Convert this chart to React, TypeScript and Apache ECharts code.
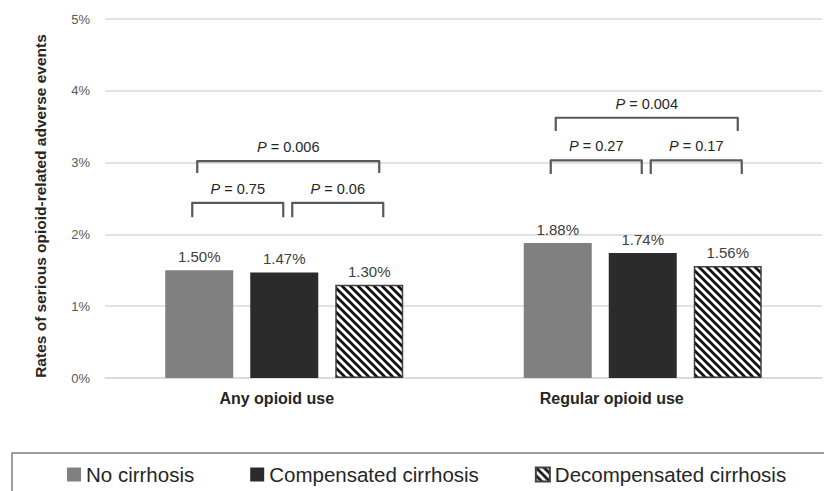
import React, { useEffect, useRef } from "react";
import * as echarts from "echarts";

const categories = ["Any opioid use", "Regular opioid use"];
const seriesNames = ["No cirrhosis", "Compensated cirrhosis", "Decompensated cirrhosis"];
const noCirrhosis = [1.5, 1.88];
const compensated = [1.47, 1.74];
const decompensated = [1.3, 1.56];
const yMin = 0;
const yMax = 5;
const yInterval = 1;
const yAxisTitle = "Rates of serious opioid-related adverse events";

// significance brackets: category, bars spanned, bracket top / leg end (in % units), p value
const bracketCats = [0, 0, 0, 1, 1, 1];
const bracketFrom = [0, 1, 0, 0, 1, 0];
const bracketTo = [1, 2, 2, 1, 2, 2];
const bracketTop = [2.44, 2.44, 3.02, 3.03, 3.03, 3.625];
const bracketLeg = [2.24, 2.24, 2.855, 2.84, 2.84, 3.44];
const bracketP = ["0.75", "0.06", "0.006", "0.27", "0.17", "0.004"];

const FONT = "'Liberation Sans', Arial, sans-serif";
const BAR_W = 68;
const BAR_GAP = 17;

function makeStripes(): HTMLCanvasElement {
  const c = document.createElement("canvas");
  c.width = 8;
  c.height = 8;
  const ctx = c.getContext("2d")!;
  ctx.fillStyle = "#ffffff";
  ctx.fillRect(0, 0, 8, 8);
  ctx.strokeStyle = "#111111";
  ctx.lineWidth = 2.7;
  for (let k = -24; k <= 24; k += 8) {
    ctx.beginPath();
    ctx.moveTo(k - 4, -4);
    ctx.lineTo(k + 12, 12);
    ctx.stroke();
  }
  return c;
}

export default function App() {
  const ref = useRef<HTMLDivElement>(null);
  useEffect(() => {
    if (!ref.current) return;
    const chart = echarts.init(ref.current, null, { renderer: "svg" });
    const stripes = makeStripes();
    const pattern: any = { image: stripes, repeat: "repeat", imageWidth: 8, imageHeight: 8 };

    const valueLabel = {
      show: true,
      position: "top",
      distance: 6,
      fontFamily: FONT,
      fontSize: 15,
      color: "#404040",
      formatter: (p: any) => Number(p.value).toFixed(2) + "%",
    };

    const bracketData = bracketCats.map((c, i) => [c, bracketTop[i], bracketLeg[i]]);

    const option: any = {
      animation: false,
      textStyle: { fontFamily: FONT },
      grid: { left: 105, right: 2, top: 19, bottom: 113, containLabel: false },
      legend: {
        data: seriesNames,
        left: 67,
        top: 464,
        padding: 0,
        itemWidth: 14,
        itemHeight: 14,
        itemGap: 56,
        icon: "rect",
        textStyle: { fontSize: 20.5, color: "#262626", fontFamily: FONT },
      },
      xAxis: {
        type: "category",
        data: categories,
        axisTick: { show: false },
        axisLine: { show: true, lineStyle: { color: "#d9d9d9", width: 1.5 } },
        axisLabel: {
          margin: 12,
          formatter: (v: string, i: number) => (i === 0 ? "{a|" + v + "}" : "{b|" + v + "}"),
          rich: {
            a: { fontFamily: FONT, fontSize: 16, fontWeight: "bold", color: "#262626", padding: [0, 15, 0, 0] },
            b: { fontFamily: FONT, fontSize: 16, fontWeight: "bold", color: "#262626", padding: [0, 62, 0, 0] },
          },
        },
      },
      yAxis: {
        type: "value",
        min: yMin,
        max: yMax,
        interval: yInterval,
        axisLine: { show: false },
        axisTick: { show: false },
        axisLabel: { formatter: "{value}%", fontSize: 13, color: "#595959", margin: 15, fontFamily: FONT },
        splitLine: { lineStyle: { color: "#d9d9d9", width: 1.5 } },
      },
      graphic: [
        {
          type: "text",
          x: 40,
          y: 206,
          rotation: Math.PI / 2,
          style: {
            text: yAxisTitle,
            fontFamily: FONT,
            fontSize: 15.5,
            fontWeight: "bold",
            fill: "#262626",
            align: "center",
            verticalAlign: "middle",
          },
        },
        {
          type: "rect",
          shape: { x: 12, y: 453, width: 900, height: 100 },
          style: { fill: "none", stroke: "#7f7f7f", lineWidth: 1.5 },
        },
      ],
      series: [
        {
          name: seriesNames[0],
          type: "bar",
          data: noCirrhosis,
          barWidth: BAR_W,
          barGap: "25%",
          itemStyle: { color: "#808080" },
          label: valueLabel,
        },
        {
          name: seriesNames[1],
          type: "bar",
          data: compensated,
          barWidth: BAR_W,
          barGap: "25%",
          itemStyle: { color: "#2b2b2b" },
          label: valueLabel,
        },
        {
          name: seriesNames[2],
          type: "bar",
          data: decompensated,
          barWidth: BAR_W,
          barGap: "25%",
          itemStyle: { color: pattern, borderColor: "#404040", borderWidth: 1.5 },
          label: valueLabel,
        },
        {
          type: "custom",
          name: "brackets",
          data: bracketData,
          clip: false,
          silent: true,
          z: 5,
          renderItem: (params: any, api: any) => {
            const i = params.dataIndex;
            const top = api.coord([api.value(0), api.value(1)]);
            const legY = api.coord([api.value(0), api.value(2)])[1];
            const step = BAR_W + BAR_GAP;
            const centerOf = (k: number) => top[0] + (k - 1) * step;
            const from = bracketFrom[i];
            const to = bracketTo[i];
            let x1: number, x2: number;
            if (from === 0 && to === 1) {
              x1 = centerOf(0) - 7;
              x2 = centerOf(1) - 1;
            } else if (from === 1 && to === 2) {
              x1 = centerOf(1) + 8;
              x2 = centerOf(2) + 14;
            } else {
              x1 = centerOf(0) - 2;
              x2 = centerOf(2) + 10;
            }
            const y = top[1];
            return {
              type: "group",
              children: [
                {
                  type: "polyline",
                  shape: { points: [[x1, legY], [x1, y], [x2, y], [x2, legY]] },
                  style: { stroke: "#595959", lineWidth: 2.2, fill: null, lineJoin: "round", lineCap: "butt" },
                },
                {
                  type: "text",
                  x: (x1 + x2) / 2,
                  y: y - 14,
                  style: {
                    text: "{i|P} = " + bracketP[i],
                    rich: { i: { fontStyle: "italic", fontFamily: FONT, fontSize: 14.5, fill: "#262626" } },
                    fontFamily: FONT,
                    fontSize: 14.5,
                    fill: "#262626",
                    align: "center",
                    verticalAlign: "middle",
                  },
                },
              ],
            };
          },
        },
      ],
    };
    chart.setOption(option);
    return () => chart.dispose();
  }, []);
  return <div ref={ref} style={{ width: 824, height: 491, position: "absolute", left: 0, top: 0 }} />;
}
